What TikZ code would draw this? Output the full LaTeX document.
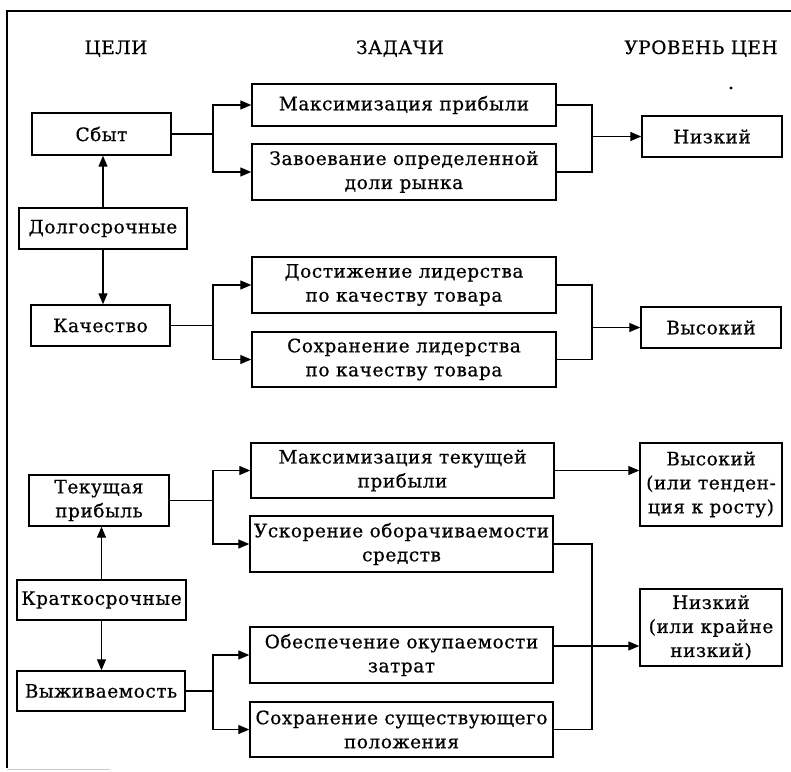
\documentclass[tikz,border=0pt]{standalone}
\usepackage{fontspec}
\setmainfont[FakeBold=0.6,LetterSpace=3]{DejaVu Serif}
\usetikzlibrary{arrows.meta}
\newcommand\fs{\fontsize{18.5}{24}\selectfont}
\newcommand\fst{\fontsize{18.5}{21}\selectfont}
\newcommand\mybox[6]{\node[box, minimum width={#4-#2}, minimum height={#5-#3}] (#1) at ({(#2+#4)/2},{(#3+#5)/2}) {#6};}
\begin{document}
\begin{tikzpicture}[x=1pt,y=-1pt,
  box/.style={draw, line width=1.4pt, inner sep=0pt, align=center, font=\fs},
  arr/.style={line width=1.2pt, -{Triangle[length=11pt,width=9pt]}},
  ln/.style={line width=1.2pt},
  hdr/.style={font=\fs, inner sep=0pt, anchor=base}]
\useasboundingbox (0,0) rectangle (791,771);
% frame
\draw[ln] (791,11) -- (7,11) -- (7,768);
\draw[gray!40, line width=1pt] (7,769) -- (110,769);
\fill (731,88) circle (1.6pt);
% headers
\node[hdr] (h1) at (116,54) {ЦЕЛИ};
\node[hdr] (h2) at (400,54) {ЗАДАЧИ};
\node[hdr] (h3) at (701,54) {УРОВЕНЬ ЦЕН};
% goals
\mybox{sbyt}{32}{113}{171}{155}{Сбыт}
\mybox{dolg}{19}{208}{187}{249}{Долгосрочные}
\mybox{kach}{31}{305}{170}{346}{Качество}
\mybox{tek}{29}{475}{169}{526}{Текущая\\прибыль}
\mybox{krat}{17}{580}{186}{620}{Краткосрочные}
\mybox{vyzh}{17}{671}{185}{711}{Выживаемость}
% tasks
\mybox{maxp}{252}{84}{556}{126}{Максимизация прибыли}
\mybox{zav}{252}{144}{556}{200}{Завоевание определенной\\доли рынка}
\mybox{dost}{252}{257}{556}{313}{Достижение лидерства\\по качеству товара}
\mybox{sokh}{252}{332}{556}{387}{Сохранение лидерства\\по качеству товара}
\mybox{maxt}{251}{443}{554}{498}{Максимизация текущей\\прибыли}
\mybox{usk}{250}{516}{553}{572}{Ускорение оборачиваемости\\средств}
\mybox{obes}{250}{627}{553}{683}{Обеспечение окупаемости\\затрат}
\mybox{soss}{250}{702}{553}{757}{Сохранение существующего\\положения}
% price levels
\mybox{niz1}{642}{116}{782}{157}{Низкий}
\mybox{vys1}{641}{307}{781}{348}{Высокий}
\mybox{vys2}{640}{443}{782}{526}{\fst Высокий\\\fst (или тенден-\\\fst ция к росту)}
\mybox{niz2}{640}{589}{782}{666}{\fst Низкий\\\fst (или крайне\\\fst низкий)}
% bus coordinates
\coordinate (L) at (213,0);
\coordinate (R) at (592,0);
% vertical arrows
\draw[arr] (dolg.north) -- (dolg.north |- sbyt.south);
\draw[arr] (dolg.south) -- (dolg.south |- kach.north);
\draw[arr] (krat.north) -- (krat.north |- tek.south);
\draw[arr] (krat.south) -- (krat.south |- vyzh.north);
% goal -> tasks
\draw[arr] (sbyt.east) -| (L |- maxp.west) -- (maxp.west);
\draw[arr] (sbyt.east) -| (L |- zav.west) -- (zav.west);
\draw[arr] (kach.east) -| (L |- dost.west) -- (dost.west);
\draw[arr] (kach.east) -| (L |- sokh.west) -- (sokh.west);
\draw[arr] (tek.east) -| (L |- maxt.west) -- (maxt.west);
\draw[arr] (tek.east) -| (L |- usk.west) -- (usk.west);
\draw[arr] (vyzh.east) -| (L |- obes.west) -- (obes.west);
\draw[arr] (vyzh.east) -| (L |- soss.west) -- (soss.west);
% tasks -> price
\draw[ln] (maxp.east) -| (R |- niz1.west);
\draw[ln] (zav.east) -| (R |- niz1.west);
\draw[arr] (R |- niz1.west) -- (niz1.west);
\draw[ln] (dost.east) -| (R |- vys1.west);
\draw[ln] (sokh.east) -| (R |- vys1.west);
\draw[arr] (R |- vys1.west) -- (vys1.west);
\draw[arr] (maxt.east) -- (maxt.east -| vys2.west);
\draw[ln] (usk.east) -| (R |- soss.east) -- (soss.east);
\draw[arr] ([yshift=9pt]obes.east) -- ([yshift=9pt]obes.east -| niz2.west);
\end{tikzpicture}
\end{document}
